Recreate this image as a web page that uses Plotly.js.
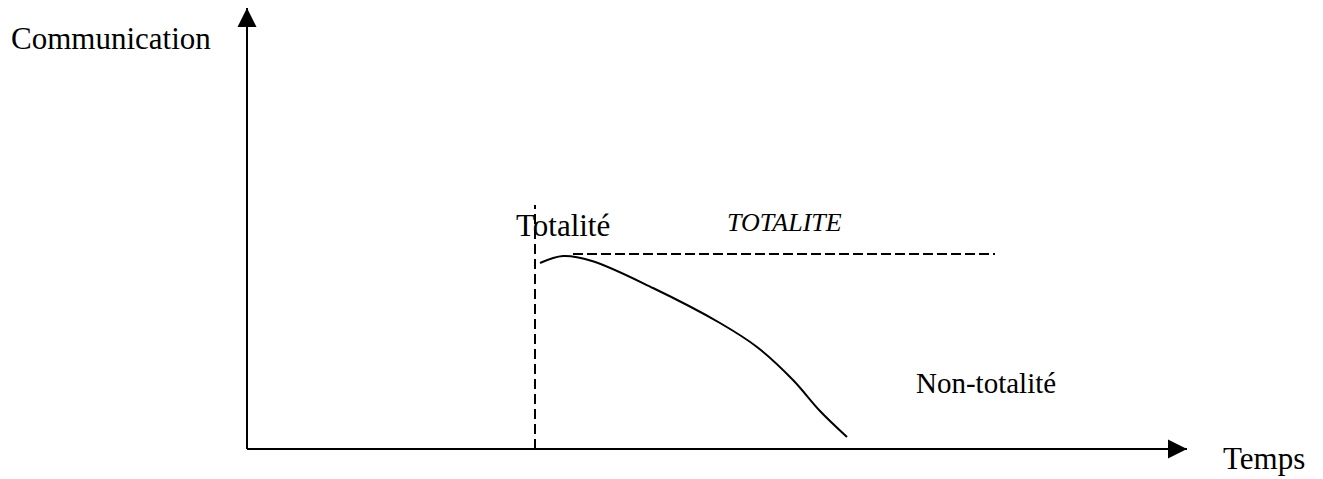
<!DOCTYPE html>
<html>
<head>
<meta charset="utf-8">
<script src="https://cdn.plot.ly/plotly-3.0.1.min.js"></script>
<style>
  html, body { margin: 0; padding: 0; background: #ffffff; }
  #chart { width: 1323px; height: 479px; }
</style>
</head>
<body>
<div id="chart"></div>
<script>
// Data (abstract units: time to the right, communication upward)
const curveTime = [293, 316, 345, 406, 473, 510, 546, 573, 600];
const curveComm = [186, 193, 188, 161, 126, 102, 69, 38, 12];
const totaliteTime = [288, 288];
const totaliteComm = [0, 244];
const plateauTime = [326, 748];
const plateauComm = [195, 195];
const axisXEnd = 940;
const axisYEnd = 441;

const labels = {
  yTitle: 'Communication',
  xTitle: 'Temps',
  totalite: 'Totalité',
  totaliteCaps: 'TOTALITE',
  nonTotalite: 'Non-totalité'
};

const serif = '"Liberation Serif", "Times New Roman", Times, serif';
const black = '#000000';

const traces = [
  // axes
  { x: [0, 0], y: [0, axisYEnd], mode: 'lines', line: { color: black, width: 2 }, hoverinfo: 'skip', showlegend: false },
  { x: [0, axisXEnd], y: [0, 0], mode: 'lines', line: { color: black, width: 2 }, hoverinfo: 'skip', showlegend: false },
  { x: [0], y: [axisYEnd], mode: 'markers', marker: { symbol: 'arrow-up', size: 19, color: black, line: { width: 0 } }, hoverinfo: 'skip', showlegend: false },
  { x: [axisXEnd], y: [0], mode: 'markers', marker: { symbol: 'arrow-right', size: 19, color: black, line: { width: 0 } }, hoverinfo: 'skip', showlegend: false },
  // vertical dashed "Totalité" marker
  { x: totaliteTime, y: totaliteComm, mode: 'lines', line: { color: black, width: 2, dash: '10px,5px' }, hoverinfo: 'skip', showlegend: false },
  // horizontal dashed plateau TOTALITE
  { x: plateauTime, y: plateauComm, mode: 'lines', line: { color: black, width: 2, dash: '10px,4px' }, hoverinfo: 'skip', showlegend: false },
  // decreasing curve
  { x: curveTime, y: curveComm, mode: 'lines', line: { color: black, width: 2, shape: 'spline', smoothing: 1 }, hoverinfo: 'skip', showlegend: false }
];

function label(text, x, y, size, italic) {
  return {
    text: text, x: x, y: y, xref: 'x', yref: 'y',
    xanchor: 'left', yanchor: 'middle', showarrow: false,
    font: { family: serif, size: size, color: black, style: italic ? 'italic' : 'normal' }
  };
}

const layout = {
  width: 1323, height: 479,
  margin: { l: 0, r: 0, t: 0, b: 0, pad: 0 },
  paper_bgcolor: '#ffffff', plot_bgcolor: '#ffffff',
  showlegend: false,
  xaxis: { range: [-247, 1076], visible: false, fixedrange: true },
  yaxis: { range: [-30, 449], visible: false, fixedrange: true },
  annotations: [
    label(labels.yTitle, -238, 411, 31, false),
    label(labels.totalite, 267, 224, 31, false),
    label(labels.totaliteCaps, 478, 227, 26, true),
    label(labels.nonTotalite, 667, 66, 29, false),
    label(labels.xTitle, 974, -9, 31, false)
  ]
};

Plotly.newPlot('chart', traces, layout, { displayModeBar: false, staticPlot: true });
</script>
</body>
</html>
